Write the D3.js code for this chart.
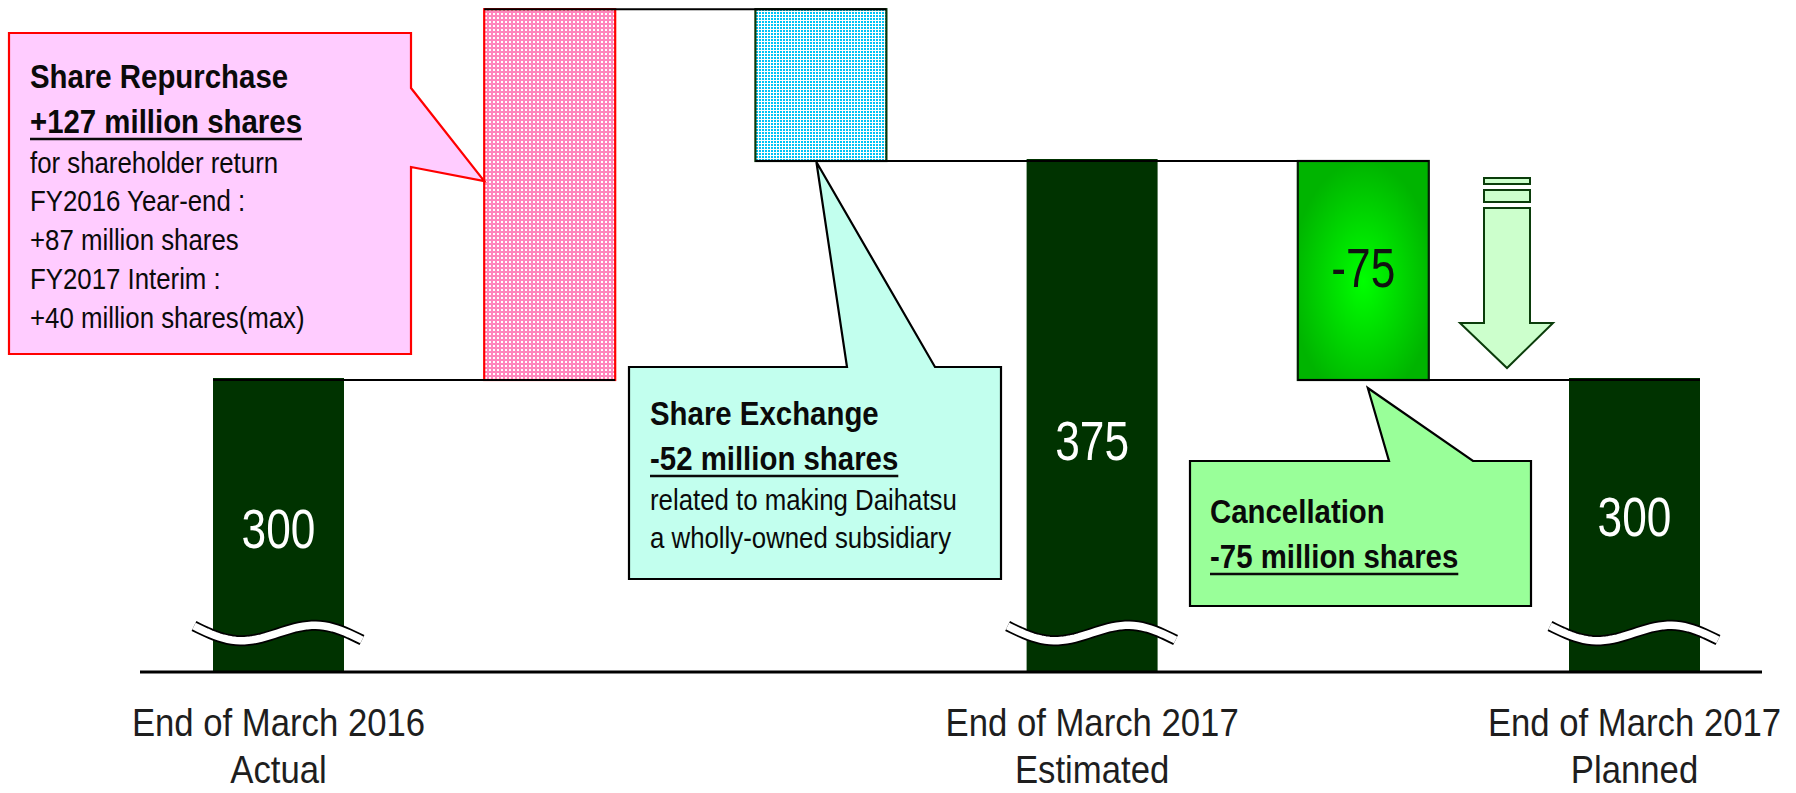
<!DOCTYPE html>
<html>
<head>
<meta charset="utf-8">
<script src="https://cdn.jsdelivr.net/npm/d3@7"></script>
<style>
  html, body { margin: 0; padding: 0; background: #fff; }
  svg { display: block; }
</style>
</head>
<body>
<div id="chart"></div>
<script>
// share count bridge, million shares
const steps = ["Mar 2016", "Repurchase", "Exchange", "Mar 2017 est", "Cancellation", "Mar 2017 plan"];
const stepKind = ["total", "delta", "delta", "total", "delta", "total"];
const stepValues = [300, 127, -52, 375, -75, 300];
const valueLabels = ["300", "", "", "375", "-75", "300"];

const tickLine1 = ["End of March 2016", "End of March 2017", "End of March 2017"];
const tickLine2 = ["Actual", "Estimated", "Planned"];

const repurchaseNote = ["Share Repurchase", "+127 million shares", "for shareholder return",
  "FY2016 Year-end :", "+87 million shares", "FY2017 Interim :", "+40 million shares(max)"];
const exchangeNote = ["Share Exchange", "-52 million shares", "related to making Daihatsu",
  "a wholly-owned subsidiary"];
const cancelNote = ["Cancellation", "-75 million shares"];

const BREAK_VALUE = 200; // axis is broken, bars start here

const width = 1796, height = 793;
const FONT = "'Liberation Sans', Arial, sans-serif";
const DARK = "#003300";
const LABEL_NUDGE = [2, 0, 0, 23, -4, -10];

const svg = d3.select("#chart").append("svg")
  .attr("width", width)
  .attr("height", height);

const defs = svg.append("defs");

// dotted pink fill
const pink = defs.append("pattern").attr("id", "pinkDots")
  .attr("width", 4).attr("height", 4).attr("patternUnits", "userSpaceOnUse");
pink.append("rect").attr("width", 4).attr("height", 4).attr("fill", "#ff86bd");
pink.append("rect").attr("x", 1).attr("y", 1).attr("width", 2).attr("height", 2).attr("fill", "#fff");

// dotted cyan fill
const cyan = defs.append("pattern").attr("id", "cyanDots")
  .attr("width", 3).attr("height", 3).attr("patternUnits", "userSpaceOnUse");
cyan.append("rect").attr("width", 3).attr("height", 3).attr("fill", "#fff");
cyan.append("rect").attr("x", 0).attr("y", 0).attr("width", 2).attr("height", 2).attr("fill", "#00c4f6");

const grad = defs.append("radialGradient").attr("id", "greenGlow")
  .attr("cx", "50%").attr("cy", "55%").attr("r", "55%");
grad.append("stop").attr("offset", "0%").attr("stop-color", "#00ff00");
grad.append("stop").attr("offset", "100%").attr("stop-color", "#00b400");

const x = d3.scaleBand()
  .domain(steps)
  .range([142.9, 1770.1])
  .paddingInner(0.517)
  .paddingOuter(0.2585);

const y = d3.scaleLinear()
  .domain([BREAK_VALUE, 300])
  .range([672, 380]);

// running totals -> bar extents
let run = 0;
const bars = steps.map((s, i) => {
  let lo, hi;
  if (stepKind[i] === "total") {
    lo = BREAK_VALUE; hi = stepValues[i]; run = stepValues[i];
  } else {
    lo = run; hi = run + stepValues[i]; run = hi;
  }
  return { step: s, i: i, kind: stepKind[i], v0: Math.min(lo, hi), v1: Math.max(lo, hi), end: run, label: valueLabels[i] };
});

function barFill(d) {
  if (d.kind === "total") return DARK;
  if (d.i === 1) return "url(#pinkDots)";
  if (d.i === 2) return "url(#cyanDots)";
  return "url(#greenGlow)";
}
function barStroke(d) {
  if (d.kind === "total") return "none";
  if (d.i === 1) return "#ff0000";
  if (d.i === 2) return "#0b3a0b";
  return "#062006";
}

svg.append("g").selectAll("rect")
  .data(bars)
  .join("rect")
  .attr("x", d => x(d.step))
  .attr("y", d => y(d.v1) - (d.kind === "total" ? 2 : 0))
  .attr("width", x.bandwidth())
  .attr("height", d => y(d.v0) - y(d.v1) + (d.kind === "total" ? 2 : 0))
  .attr("fill", barFill)
  .attr("stroke", barStroke)
  .attr("stroke-width", d => d.kind === "total" ? 0 : 2.2);

// connector lines between neighbouring bars
const links = bars.slice(0, -1).map((d, i) => ({ a: d.step, b: bars[i + 1].step, v: d.end }));
svg.append("g").selectAll("line")
  .data(links)
  .join("line")
  .attr("x1", d => x(d.a))
  .attr("x2", d => x(d.b) + x.bandwidth())
  .attr("y1", d => y(d.v))
  .attr("y2", d => y(d.v))
  .attr("stroke", "#000")
  .attr("stroke-width", 2);

// break waves on total bars
const wave = d3.line().x(p => p[0]).y(p => p[1]);
function wavePoints(d) {
  const x0 = x(d.step) - 19, w = x.bandwidth() + 37, y0 = 626;
  return d3.range(0, 1.0001, 0.025).map(t => [x0 + t * w, y0 + 14 * t + 11 * Math.sin(2 * Math.PI * t)]);
}
const totals = bars.filter(d => d.kind === "total");
const waves = svg.append("g");
waves.selectAll("path.outer").data(totals).join("path").attr("class", "outer")
  .attr("d", d => wave(wavePoints(d)))
  .attr("fill", "none").attr("stroke", "#000").attr("stroke-width", 11);
waves.selectAll("path.inner").data(totals).join("path").attr("class", "inner")
  .attr("d", d => wave(wavePoints(d)))
  .attr("fill", "none").attr("stroke", "#fff").attr("stroke-width", 7.5);

// baseline
svg.append("line")
  .attr("x1", 140).attr("x2", 1762)
  .attr("y1", y(BREAK_VALUE)).attr("y2", y(BREAK_VALUE))
  .attr("stroke", "#000").attr("stroke-width", 3);

// condensed text helper
function addText(parent, tx, ty, str, size, opts) {
  opts = opts || {};
  const sx = opts.sx || 0.88;
  const g = parent.append("g").attr("transform", `translate(${tx},${ty}) scale(${sx},1)`);
  const t = g.append("text")
    .text(str)
    .attr("font-family", FONT)
    .attr("font-size", size)
    .attr("font-weight", opts.bold ? "bold" : "normal")
    .attr("text-anchor", opts.anchor || "start")
    .attr("fill", opts.fill || "#000");
  return { g: g, t: t, w: t.node().getComputedTextLength() * sx };
}

// value labels inside bars
const valG = svg.append("g");
bars.filter(d => d.label).forEach(d => {
  const cy = (y(d.v0) + y(d.v1)) / 2 + 20 + LABEL_NUDGE[d.i];
  addText(valG, x(d.step) + x.bandwidth() / 2, cy, d.label, 56,
    { sx: 0.79, anchor: "middle", fill: d.kind === "total" ? "#fff" : "#111" });
});

// category labels under the total bars
const catG = svg.append("g");
totals.forEach((d, k) => {
  const cx = x(d.step) + x.bandwidth() / 2;
  addText(catG, cx, 736, tickLine1[k], 39, { sx: 0.89, anchor: "middle", fill: "#1e1e1e" });
  addText(catG, cx, 783, tickLine2[k], 39, { sx: 0.89, anchor: "middle", fill: "#1e1e1e" });
});

// callouts
function callout(d, fill, stroke, tx, firstBase, lines) {
  const g = svg.append("g");
  g.append("path").attr("d", d).attr("fill", fill).attr("stroke", stroke)
    .attr("stroke-width", 2.2).attr("stroke-linejoin", "miter");
  lines.forEach((s, i) => {
    const bold = i < 2;
    const base = i < 2 ? firstBase + i * 45 : firstBase + 45 + 39.5 + (i - 2) * 38.8;
    const r = addText(g, tx, base, s, bold ? 34 : 29,
      { bold: bold, sx: bold ? 0.865 : 0.89, fill: "#0a0a0a" });
    if (i === 1) {
      g.append("line").attr("x1", tx).attr("x2", tx + r.w)
        .attr("y1", base + 6).attr("y2", base + 6)
        .attr("stroke", "#0a0a0a").attr("stroke-width", 2.5);
    }
  });
}

const pinkLeft = x(steps[1]);
const tipRepurchase = [pinkLeft, 181];
callout(`M9,33 H411 V88 L${tipRepurchase[0]},${tipRepurchase[1]} L411,167 V354 H9 Z`,
  "#ffccff", "#ff0000", 30, 88, repurchaseNote);

const tipExchange = [x(steps[2]) + 61, y(375) + 1];
callout(`M629,367 H847 L${tipExchange[0]},${tipExchange[1]} L935,367 H1001 V579 H629 Z`,
  "#c2ffee", "#000", 650, 425, exchangeNote);

const tipCancel = [x(steps[4]) + 70, y(300) + 8];
callout(`M1190,461 H1389 L${tipCancel[0]},${tipCancel[1]} L1473,461 H1531 V606 H1190 Z`,
  "#99ff99", "#000", 1210, 523, cancelNote);

// down arrow between cancellation and planned bar
const arrow = svg.append("g").attr("fill", "#ccffcc").attr("stroke", "#0b3d0b").attr("stroke-width", 2);
arrow.append("rect").attr("x", 1484).attr("y", 178).attr("width", 46).attr("height", 6);
arrow.append("rect").attr("x", 1484).attr("y", 190).attr("width", 46).attr("height", 12);
arrow.append("path").attr("d", "M1484,208 H1530 V323 H1553 L1507,368 L1460,323 H1484 Z");
</script>
</body>
</html>
